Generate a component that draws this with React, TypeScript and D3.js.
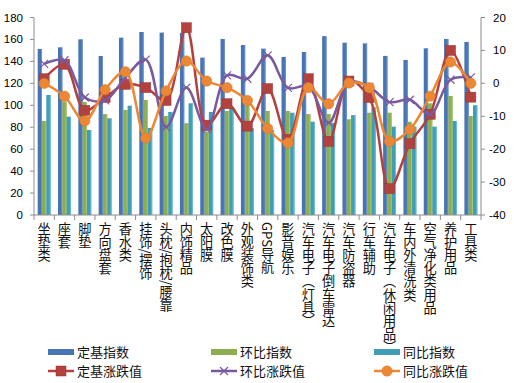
import React from 'react';
import * as d3 from 'd3';

const categories = ['坐垫类','座套','脚垫','方向盘套','香水类','挂饰/摆饰','头枕/抱枕/腰靠','内饰精品','太阳膜','改色膜','外观装饰类','GPS导航','影音娱乐','汽车电子（灯具）','汽车电子倒车雷达','汽车防盗器','行车辅助','汽车电子（休闲用品）','车内外清洗类','空气净化类用品','养护用品','工具类'];

const dingjiIndex = [151.3,152.8,160.1,144.9,161.6,166.8,166.2,166,143.4,160.4,154.9,151.6,144,148.6,163,157,156.4,145,141.3,151.9,160.4,157.7];
const huanbiIndex = [85.7,103.3,103,92,95.7,104.8,90.2,83.6,76,94.8,100.3,94.8,94.8,92,92,87.2,93.2,93.2,85,101.8,108.5,90.2];
const tongbiIndex = [109.4,89.6,77.5,88.1,99.6,79.3,93.9,101.8,93.9,98,79.3,77.5,93.2,85,84,91,98,80.5,80.5,80.5,85.7,100];

const dingjiChange = [1.4,5.8,-8.2,-4.3,-0.3,-1.3,-5.2,16.9,-12.7,-6.2,-13,-1.6,-17,1.4,-17.6,0.7,-4.3,-32,-18.3,-9.4,10,-4.2];
const huanbiChange = [5.9,7,-4.3,-5.2,1.8,7.2,-13.3,-1.3,-14,2.4,1.4,8.5,-1.4,-0.9,-12,0.4,-1.1,-5.7,-5,-9.4,1.1,1.8];
const tongbiChange = [0,-3.9,-11.4,-1.9,3.5,-16.6,-2.3,6.8,0.7,-1.3,-5.2,-13.7,-18.1,-1.3,-6.2,0.1,-1.3,-17.6,-14,-3.9,6.5,0];

const leftTicks = [0,20,40,60,80,100,120,140,160,180];
const rightTicks = [-40,-30,-20,-10,0,10,20];

const barSeries = [
  { name: '定基指数', values: dingjiIndex, color: '#4674B4', hi: '#6E93C8' },
  { name: '环比指数', values: huanbiIndex, color: '#8DAE4F', hi: '#A9C678' },
  { name: '同比指数', values: tongbiIndex, color: '#3F9DB6', hi: '#6DBBCF' },
];
const lineSeries = [
  { name: '定基涨跌值', values: dingjiChange, color: '#B3423F', marker: 'square' },
  { name: '环比涨跌值', values: huanbiChange, color: '#7A5A9F', marker: 'x' },
  { name: '同比涨跌值', values: tongbiChange, color: '#EC8734', marker: 'circle' },
];

const W = 514, H = 383;
const plotL = 34, plotR = 481, plotT = 17.5, plotB = 215;
const axisColor = '#8C8C8C';
const numFont = '"Liberation Sans", Arial, sans-serif';
const cjkFont = '"Noto Sans CJK SC", sans-serif';

function Marker({ type, x, y, color }: { type: string; x: number; y: number; color: string }) {
  if (type === 'square') return <rect x={x - 5} y={y - 5} width={10} height={10} fill={color} stroke="#9A3532" strokeWidth={0.5} />;
  if (type === 'circle') return <circle cx={x} cy={y} r={5.2} fill={color} stroke="#D9772A" strokeWidth={0.5} />;
  return (
    <g stroke={color} strokeWidth={1.2}>
      <line x1={x - 4} y1={y - 4} x2={x + 4} y2={y + 4} />
      <line x1={x - 4} y1={y + 4} x2={x + 4} y2={y - 4} />
    </g>
  );
}

export default function App() {
  const x = d3.scaleBand<string>().domain(categories).range([plotL, plotR]).paddingInner(0).paddingOuter(0);
  const yL = d3.scaleLinear().domain([0, 180]).range([plotB, plotT]);
  const yR = d3.scaleLinear().domain([-40, 20]).range([plotB, plotT]);
  const bw = x.bandwidth();
  const barW = bw / 4.72;
  const groupOff = (bw - barW * 3) / 2;

  const line = d3.line<number>()
    .x((_, i) => (x(categories[i]) as number) + bw / 2)
    .y(d => yR(d))
    .curve(d3.curveCatmullRom.alpha(0.5));

  const legendCols = [48, 211, 374];
  const legendRows = [352, 371];

  return (
    <div style={{ position: 'absolute', left: 0, top: 0 }}>
      <svg width={W} height={H} style={{ display: 'block', background: '#fff' }}>
        {/* bars */}
        {barSeries.map((s, si) => (
          <g key={s.name}>
            {s.values.map((v, i) => {
              const bx = (x(categories[i]) as number) + groupOff + si * barW;
              const by = yL(v);
              return (
                <g key={i}>
                  <rect x={bx} y={by} width={barW} height={plotB - by} fill={s.color} />
                  <rect x={bx + barW - 1} y={by} width={1} height={plotB - by} fill={s.hi} />
                </g>
              );
            })}
          </g>
        ))}
        {/* axes */}
        <line x1={plotL} y1={plotT} x2={plotL} y2={plotB} stroke={axisColor} />
        <line x1={plotR} y1={plotT} x2={plotR} y2={plotB} stroke={axisColor} />
        <line x1={plotL} y1={plotB} x2={plotR} y2={plotB} stroke={axisColor} />
        {leftTicks.map(t => (
          <g key={'l' + t}>
            <line x1={plotL - 4} x2={plotL} y1={yL(t)} y2={yL(t)} stroke={axisColor} />
            <text x={23} y={yL(t) + 4} textAnchor="end" fontSize={11.5} fontFamily={numFont} fill="#000">{t}</text>
          </g>
        ))}
        {rightTicks.map(t => (
          <g key={'r' + t}>
            <line x1={plotR} x2={plotR + 4} y1={yR(t)} y2={yR(t)} stroke={axisColor} />
            <text x={t < 0 ? 489 : 493} y={yR(t) + 4} textAnchor="start" fontSize={11.5} fontFamily={numFont} fill="#000">{t}</text>
          </g>
        ))}
        {categories.map((c, i) => (
          <line key={'t' + i} x1={x(c) as number} x2={x(c) as number} y1={plotB} y2={plotB + 5} stroke={axisColor} />
        ))}
        <line x1={plotR} x2={plotR} y1={plotB} y2={plotB + 5} stroke={axisColor} />
        {/* category labels */}
        {categories.map((c, i) => (
          <text key={'c' + i} x={(x(c) as number) + bw / 2} y={222}
            style={{ writingMode: 'vertical-rl' as any }}
            fontSize={13.2} fontFamily={cjkFont} fill="#111">{c}</text>
        ))}
        {/* lines */}
        {lineSeries.map(s => (
          <g key={s.name}>
            <path d={line(s.values) || ''} fill="none" stroke={s.color} strokeWidth={2.5} />
            {s.values.map((v, i) => (
              <Marker key={i} type={s.marker} x={(x(categories[i]) as number) + bw / 2} y={yR(v)} color={s.color} />
            ))}
          </g>
        ))}
        {/* legend */}
        {barSeries.map((s, i) => (
          <g key={'lg' + i}>
            <rect x={legendCols[i]} y={legendRows[0] - 3} width={26} height={6} fill={s.color} />
            <text x={legendCols[i] + 29} y={legendRows[0] + 4.5} fontSize={13} fontFamily={cjkFont} fill="#111">{s.name}</text>
          </g>
        ))}
        {lineSeries.map((s, i) => (
          <g key={'ll' + i}>
            <line x1={legendCols[i]} x2={legendCols[i] + 26} y1={legendRows[1]} y2={legendRows[1]} stroke={s.color} strokeWidth={2.5} />
            <Marker type={s.marker} x={legendCols[i] + 13} y={legendRows[1]} color={s.color} />
            <text x={legendCols[i] + 29} y={legendRows[1] + 4.5} fontSize={13} fontFamily={cjkFont} fill="#111">{s.name}</text>
          </g>
        ))}
      </svg>
    </div>
  );
}
